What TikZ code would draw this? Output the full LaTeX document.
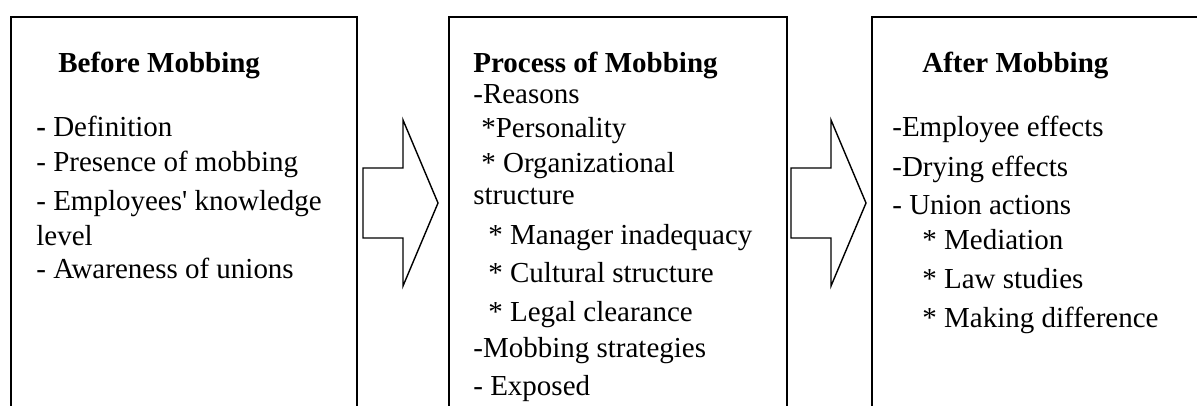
\documentclass[tikz,border=0pt]{standalone}
\usepackage{fontspec}
\setmainfont{Liberation Serif}[Ligatures=TeXOff]
\usepackage{tikz}
\usetikzlibrary{positioning}

\tikzset{
  panel/.style={draw, line width=1.1pt, minimum height=8.6cm, anchor=north west, inner sep=0pt},
  heading/.style={anchor=base west, inner sep=0pt, font=\fontsize{16.5}{19.92}\selectfont\bfseries},
  itemlist/.style={anchor=base west, inner sep=0pt, align=left, font=\fontsize{16.5}{19.92}\selectfont},
  blockarrow/.style={draw, line width=0.8pt, line join=miter}
}

\begin{document}
\begin{tikzpicture}
  \useasboundingbox (0,0) rectangle (23.94,8.1);
  \clip (0,0) rectangle (23.94,8.1);

  % Three stages
  \node[panel, minimum width=6.92cm] (before) at (0.2, 7.78) {};
  \node[panel, minimum width=6.76cm] (process) at (8.96, 7.78) {};
  \node[panel, minimum width=6.9cm] (after) at (17.42, 7.78) {};

  % Before (list placed by its last baseline)
  \node[heading] (title1) at (1.16, 6.66) {Before Mobbing};
  \node[itemlist] (list1) at (0.72, 2.54) {{\bfseries -} Definition\\
    - Presence of mobbing\\[0.08cm]
    - Employees' knowledge\\[-0.02cm]
    level\\[-0.04cm]
    - Awareness of unions};

  % Process
  \node[heading] (title2) at (9.46, 6.66) {Process of Mobbing};
  \node[itemlist] (list2) at (9.46, 0.2) {-Reasons\\[-0.02cm]
    \hspace*{0.16cm}*Personality\\
    \hspace*{0.16cm}* Organizational\\[-0.06cm]
    structure\\[0.1cm]
    \hspace*{0.3cm}* Manager inadequacy\\[0.06cm]
    \hspace*{0.3cm}* Cultural structure\\[0.08cm]
    \hspace*{0.3cm}* Legal clearance\\
    -Mobbing strategies\\[0.06cm]
    - Exposed};

  % After
  \node[heading] (title3) at (18.44, 6.66) {After Mobbing};
  \node[itemlist] (list3) at (17.84, 1.56) {-Employee effects\\[0.1cm]
    -Drying effects\\[0.06cm]
    - Union actions\\
    \hspace*{0.6cm}* Mediation\\[0.06cm]
    \hspace*{0.6cm}* Law studies\\[0.08cm]
    \hspace*{0.6cm}* Making difference};

  % Block arrows between stages
  \draw[blockarrow] (7.26,3.34) -- (8.06,3.34) -- (8.06,2.38) -- (8.76,4.04) -- (8.06,5.70) -- (8.06,4.74) -- (7.26,4.74) -- cycle;
  \draw[blockarrow] (15.82,3.34) -- (16.62,3.34) -- (16.62,2.38) -- (17.32,4.04) -- (16.62,5.70) -- (16.62,4.74) -- (15.82,4.74) -- cycle;
\end{tikzpicture}
\end{document}
